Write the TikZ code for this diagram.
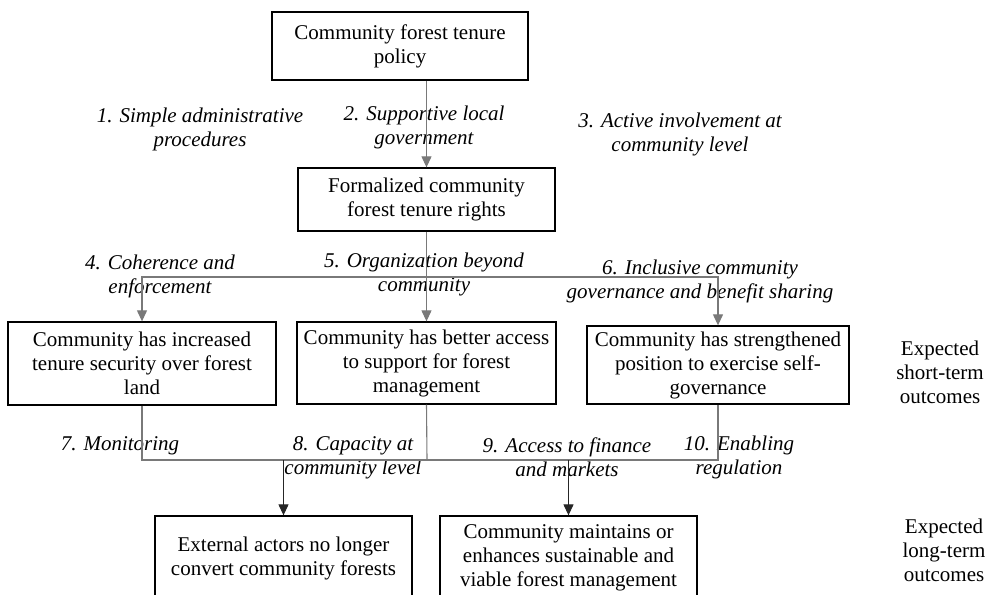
\documentclass[tikz,border=0pt]{standalone}
\usepackage{fontspec}
\setmainfont{Liberation Serif}
\usetikzlibrary{arrows.meta}

\tikzset{
  box/.style={draw, line width=1.3pt, align=center, inner sep=0pt,
    font=\fontsize{21}{24}\selectfont},
  lbl/.style={align=center, inner sep=0pt, font=\fontsize{21}{24}\selectfont\itshape},
  side/.style={align=center, inner sep=0pt, font=\fontsize{21}{24}\selectfont},
  link/.style={draw=gray!95!black, line width=1.1pt},
  linkarrow/.style={link, -{Triangle[width=10pt,length=11pt]}},
  outarrow/.style={draw=black!85, line width=1.1pt, -{Triangle[width=10pt,length=11pt]}}
}

\begin{document}
\begin{tikzpicture}[x=1pt,y=-1pt]
    \useasboundingbox (0,0) rectangle (987,594);
    % boxes
    \node[box, minimum width=256pt, minimum height=68pt] (policy) at (400,46)
        {Community forest tenure\\policy};
    \node[box, minimum width=257pt, minimum height=63pt] (rights) at (426.5,199.5)
        {Formalized community\\forest tenure rights};
    \node[box, minimum width=268pt, minimum height=83pt] (security) at (142,363.5)
        {Community has increased\\tenure security over forest\\land};
    \node[box, minimum width=259pt, minimum height=82pt] (support) at (426.5,363)
        {Community has better access\\to support for forest\\management};
    \node[box, minimum width=262pt, minimum height=78pt] (selfgov) at (718,365)
        {Community has strengthened\\position to exercise self-\\governance};
    \node[box, minimum width=257pt, minimum height=84pt] (external) at (283.5,558)
        {External actors no longer\\convert community forests};
    \node[box, minimum width=257pt, minimum height=84pt] (sustain) at (568.5,558)
        {Community maintains or\\enhances sustainable and\\viable forest management};

    % conditions
    \node[lbl] (c1) at (200,129.5) {1. Simple administrative\\procedures};
    \node[lbl] (c2) at (424,127.5) {2. Supportive local\\government};
    \node[lbl] (c3) at (680,134) {3. Active involvement at\\community level};
    \node[lbl] (c4) at (160,276.5) {4. Coherence and\\enforcement};
    \node[lbl] (c5) at (424,274.5) {5. Organization beyond\\community};
    \node[lbl] (c6) at (700,281.5) {6. Inclusive community\\governance and benefit sharing};
    \node[lbl] (c7) at (120,446) {7. Monitoring};
    \node[lbl] (c8) at (353,457.5) {8. Capacity at\\community level};
    \node[lbl] (c9) at (567,457.5) {9. Access to finance\\and markets};
    \node[lbl] (c10) at (739,457.5) {10. Enabling\\regulation};

    \node[side] (short) at (940,372) {Expected\\short-term\\outcomes};
    \node[side] (long) at (944,550) {Expected\\long-term\\outcomes};

    % connectors
    \coordinate (split) at (427,277);
    \coordinate (merge) at (427,460);
    \draw[linkarrow] (rights.north |- policy.south) -- (rights.north);
    \draw[linkarrow] (rights) -- (support);
    \draw[linkarrow] (split) -| (security);
    \draw[linkarrow] (split) -| (selfgov);
    \draw[link] (security.south) |- (merge) -| (selfgov.south);
    \draw[link] (support.south) -- (merge);
    \draw[outarrow] (external.north |- merge) -- (external);
    \draw[outarrow] (sustain.north |- merge) -- (sustain);
\end{tikzpicture}
\end{document}
